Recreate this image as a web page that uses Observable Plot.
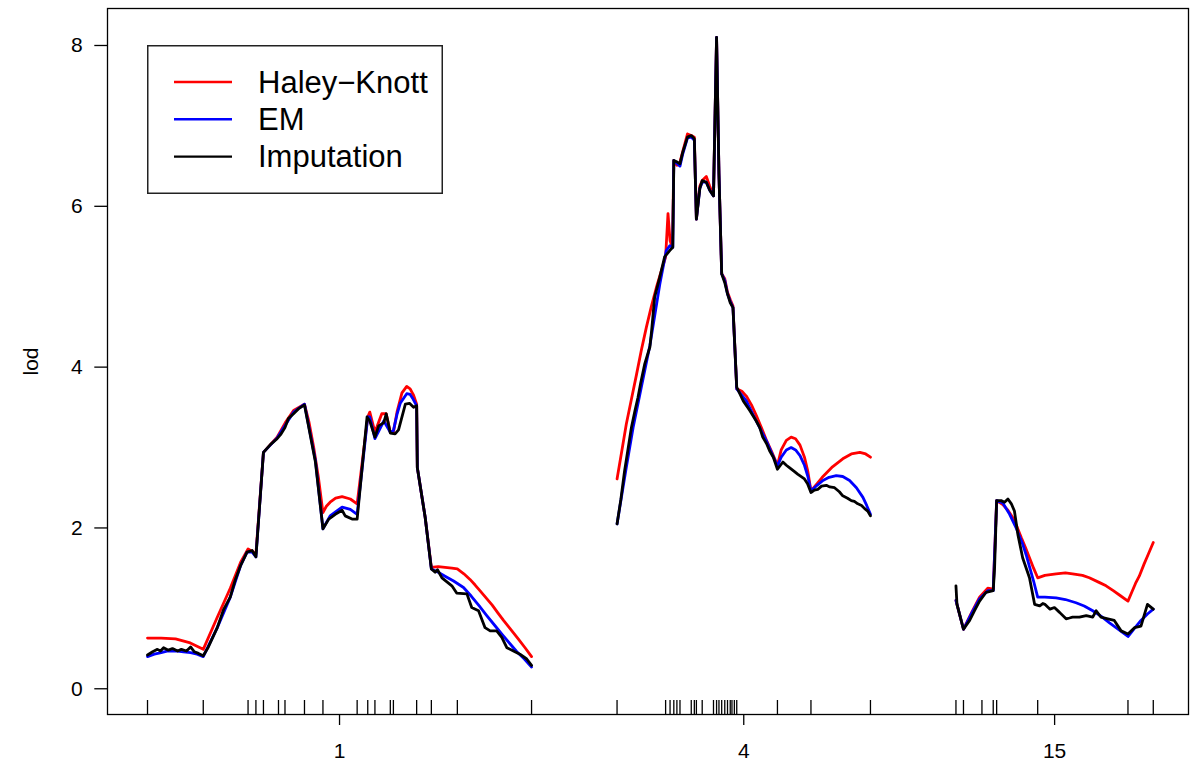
<!DOCTYPE html>
<html><head><meta charset="utf-8">
<script src="https://cdn.jsdelivr.net/npm/d3@7"></script>
<script src="https://cdn.jsdelivr.net/npm/@observablehq/plot@0.6"></script>
<style>
body{margin:0;background:#fff;font-family:"Liberation Sans",Arial,sans-serif}
#wrap{position:relative;width:1190px;height:762px}
#legend{position:absolute;left:147px;top:45px}
</style>
</head><body><div id="wrap"></div>
<script>
// ---- data ----
const chromosomes = ["1", "4", "15"];
const chromLengths = [112.3, 74.1, 57.7];
const chromGap = 25;
const methods = ["Haley−Knott", "EM", "Imputation"];
const methodColors = ["#ff0000", "#0000ff", "#000000"];
const yTicks = [0, 2, 4, 6, 8];

const markers1 = [0,16.3,29.4,31.7,33.9,38.3,40.2,45.9,51.3,61.3,64.4,66.5,71.0,71.9,78.7,83.0,90.6,112.3];
const markers4 = [0,14.2,15.5,16.6,17.5,18.4,21.7,22.6,23.2,24.9,28.2,29.1,29.8,30.6,31.5,32.3,33.1,33.6,34.3,35.0,46.9,56.7,74.1];
const markers15 = [0,2.2,7.6,10.9,11.9,23.9,50.3,57.7];

// [position (cM), lod]
const hk1 = [[0,0.63],[4,0.63],[8.2,0.62],[12.5,0.57],[16.3,0.49],[20.4,0.89],[24.2,1.25],[27.2,1.57],[29.4,1.74],[31.7,1.68],[33.9,2.94],[37.9,3.13],[40.3,3.31],[42.7,3.46],[45.9,3.54],[47.2,3.32],[48.6,3.00],[50.0,2.62],[51.3,2.19],[52.3,2.27],[53.4,2.32],[55.0,2.37],[56.9,2.39],[59.3,2.36],[61.3,2.30],[64.4,3.38],[65.0,3.44],[66.5,3.19],[68.5,3.42],[69.8,3.42],[71.0,3.19],[71.9,3.19],[73.0,3.45],[74.4,3.68],[75.8,3.76],[76.8,3.73],[77.8,3.65],[78.7,3.54],[78.9,2.75],[81.2,2.13],[83.0,1.51],[85.0,1.52],[87.0,1.51],[89.0,1.50],[90.6,1.49],[92.5,1.43],[94.3,1.36],[95.8,1.29],[97.2,1.22],[99.0,1.13],[100.8,1.04],[102.5,0.94],[104.1,0.85],[106.2,0.74],[108.4,0.62],[110.4,0.51],[112.3,0.40]];
const em1 = [[0,0.40],[2,0.43],[4,0.45],[6,0.47],[8.2,0.47],[10.5,0.46],[12.6,0.45],[14.5,0.43],[16.3,0.40],[20.4,0.76],[24.2,1.14],[27.2,1.53],[29.1,1.70],[30.6,1.70],[31.7,1.64],[33.9,2.94],[37.9,3.12],[40.3,3.28],[42.7,3.44],[45.9,3.54],[49.1,2.84],[51.3,1.99],[53.4,2.15],[56.9,2.26],[59.3,2.23],[61.3,2.17],[64.4,3.38],[65.0,3.38],[66.5,3.11],[69.1,3.33],[71.0,3.19],[71.9,3.21],[73.0,3.42],[73.9,3.55],[75.8,3.67],[76.8,3.66],[77.7,3.60],[78.7,3.52],[78.9,2.75],[81.2,2.13],[83.0,1.49],[85.0,1.45],[87.0,1.40],[89.5,1.34],[92.4,1.26],[94.7,1.15],[97.0,1.03],[99.2,0.91],[101.5,0.79],[103.8,0.67],[106.0,0.56],[108.0,0.46],[110.2,0.37],[112.3,0.27]];
const imp1 = [[0,0.42],[1.5,0.46],[2.9,0.49],[3.8,0.47],[4.7,0.51],[6.1,0.48],[7.3,0.50],[8.8,0.47],[9.9,0.49],[11.4,0.47],[12.6,0.52],[13.7,0.46],[14.9,0.44],[16.3,0.41],[17.8,0.52],[20.4,0.76],[22.2,0.98],[24.2,1.14],[25.7,1.36],[27.2,1.53],[29.1,1.70],[30.6,1.72],[31.7,1.64],[33.9,2.94],[36.0,3.04],[37.9,3.11],[38.9,3.16],[40.2,3.25],[41.2,3.36],[42.7,3.42],[44.1,3.48],[45.9,3.53],[49.1,2.82],[51.3,1.99],[53.0,2.11],[54.9,2.17],[56.9,2.22],[57.8,2.15],[59.8,2.11],[61.3,2.11],[64.2,3.38],[65.0,3.33],[66.5,3.13],[67.6,3.27],[69.1,3.31],[69.8,3.42],[71.0,3.18],[72.4,3.17],[73.4,3.22],[75.4,3.54],[76.6,3.55],[77.8,3.50],[78.7,3.52],[78.9,2.75],[81.2,2.13],[83.0,1.49],[84.1,1.45],[84.8,1.48],[86.1,1.38],[89.0,1.28],[90.4,1.19],[93.4,1.18],[94.8,1.01],[96.8,0.97],[98.7,0.76],[100.2,0.72],[102.1,0.72],[103.6,0.64],[105.1,0.51],[107.0,0.47],[108.9,0.43],[110.9,0.37],[112.3,0.29]];

const hk4 = [[0,2.61],[1.4,2.96],[2.7,3.29],[4.2,3.60],[5.7,3.91],[7.1,4.21],[8.6,4.50],[10.0,4.75],[11.5,4.99],[12.9,5.19],[14.2,5.37],[14.9,5.91],[15.5,5.57],[16.2,5.49],[16.6,6.57],[17.5,6.51],[18.4,6.55],[19.2,6.68],[20.6,6.90],[21.7,6.88],[22.6,6.86],[23.2,5.84],[24.2,6.25],[24.9,6.32],[26.1,6.37],[27.1,6.25],[28.2,6.13],[29.1,8.10],[29.8,6.40],[30.6,5.16],[31.5,5.10],[32.3,4.93],[33.1,4.84],[33.9,4.76],[35.0,3.73],[36.5,3.70],[37.8,3.64],[39.3,3.53],[40.7,3.40],[42.2,3.25],[43.6,3.10],[45.3,2.94],[46.9,2.78],[48.0,2.97],[49.5,3.09],[50.9,3.13],[52.2,3.11],[53.5,3.03],[54.8,2.88],[55.8,2.70],[56.7,2.46],[58.5,2.55],[60.0,2.63],[63.0,2.76],[66.0,2.86],[68.5,2.92],[71.0,2.94],[72.7,2.92],[74.1,2.88]];
const em4 = [[0,2.05],[2.7,2.75],[4.7,3.25],[7.1,3.75],[9.6,4.27],[12.5,5.03],[14.4,5.45],[15.4,5.51],[16.3,5.49],[16.6,6.57],[18.4,6.50],[19.2,6.65],[20.6,6.85],[21.7,6.86],[22.6,6.82],[23.2,5.84],[24.2,6.22],[24.9,6.30],[26.1,6.30],[27.1,6.20],[28.2,6.13],[29.1,8.10],[29.8,6.40],[30.6,5.16],[31.5,5.08],[32.3,4.91],[33.1,4.82],[33.9,4.74],[35.0,3.73],[37.8,3.58],[40.7,3.33],[43.6,3.09],[46.9,2.77],[48.0,2.88],[49.5,2.97],[50.9,3.00],[52.2,2.97],[53.5,2.90],[54.8,2.78],[55.8,2.64],[56.7,2.46],[58.5,2.53],[60.2,2.59],[62.0,2.63],[64.1,2.65],[66.0,2.64],[68.0,2.59],[70.0,2.50],[71.9,2.38],[73.0,2.28],[74.1,2.17]];
const imp4 = [[0,2.05],[1.1,2.35],[2.2,2.71],[3.1,2.95],[4.2,3.25],[5.2,3.45],[6.1,3.62],[6.9,3.80],[8.1,4.04],[9.6,4.25],[10.1,4.45],[11.0,4.87],[12.5,5.12],[13.9,5.37],[15.4,5.45],[16.3,5.49],[16.6,6.57],[17.6,6.55],[18.4,6.53],[19.2,6.67],[20.6,6.86],[21.7,6.88],[22.6,6.84],[23.2,5.84],[24.2,6.22],[24.9,6.32],[26.1,6.30],[27.1,6.20],[28.2,6.13],[29.1,8.10],[29.8,6.40],[30.6,5.16],[31.5,5.05],[32.3,4.91],[33.1,4.80],[33.9,4.74],[35.0,3.75],[36.9,3.58],[38.8,3.46],[40.7,3.33],[41.7,3.25],[42.6,3.13],[43.7,3.05],[44.6,2.96],[45.7,2.88],[46.9,2.73],[48.5,2.82],[49.5,2.78],[50.4,2.75],[51.9,2.70],[52.8,2.67],[54.8,2.61],[55.7,2.55],[56.7,2.44],[57.7,2.47],[58.7,2.48],[59.8,2.52],[61.2,2.53],[62.2,2.51],[63.6,2.50],[65.0,2.45],[66.0,2.40],[67.4,2.37],[68.5,2.34],[69.4,2.33],[70.4,2.30],[71.5,2.28],[72.4,2.24],[73.3,2.21],[74.1,2.15]];

const hk15 = [[0,1.10],[2.2,0.74],[4.6,0.95],[6.9,1.14],[9.3,1.25],[10.9,1.24],[11.9,2.34],[13.7,2.29],[15.2,2.22],[16.6,2.13],[17.9,2.01],[19.1,1.88],[20.3,1.76],[21.5,1.63],[22.7,1.50],[23.9,1.38],[26.0,1.41],[29.3,1.43],[32.0,1.44],[34.1,1.43],[37.0,1.41],[39.0,1.38],[42.0,1.32],[43.9,1.28],[46.0,1.22],[48.0,1.16],[50.3,1.09],[51.5,1.21],[52.5,1.31],[53.6,1.40],[55.0,1.55],[56.3,1.68],[57.7,1.82]];
const em15 = [[0,1.10],[2.2,0.74],[4.6,0.94],[6.9,1.12],[9.3,1.22],[10.9,1.22],[11.9,2.34],[13.7,2.31],[15.7,2.17],[17.6,2.00],[19.5,1.80],[20.5,1.67],[21.5,1.52],[22.7,1.34],[23.9,1.14],[26.0,1.14],[29.3,1.13],[32.0,1.11],[35.1,1.07],[37.5,1.03],[40.0,0.97],[42.5,0.90],[44.9,0.82],[47.5,0.74],[50.3,0.65],[52.2,0.75],[54.1,0.85],[56.0,0.93],[57.7,0.99]];
const imp15 = [[0,1.28],[0.3,1.05],[2.2,0.74],[4.0,0.85],[5.4,0.97],[6.9,1.09],[8.8,1.20],[10.9,1.22],[11.3,1.51],[11.9,2.34],[13.2,2.34],[14.2,2.32],[15.2,2.36],[16.2,2.30],[17.1,2.21],[18.1,1.92],[19.5,1.63],[21.5,1.38],[23.0,1.05],[24.5,1.03],[25.4,1.06],[26.0,1.05],[27.5,0.99],[28.8,1.01],[30.3,0.95],[32.2,0.87],[33.2,0.88],[34.1,0.89],[36.1,0.89],[38.1,0.91],[40.0,0.89],[41.0,0.97],[42.4,0.89],[44.4,0.87],[46.3,0.85],[48.3,0.72],[50.3,0.68],[52.2,0.76],[54.1,0.78],[56.0,1.05],[57.7,0.99]];

// ---- build tables ----
const offsets = [];
{ let acc = 0; chromLengths.forEach(L => { offsets.push(acc); acc += L + chromGap; }); }
const mids = chromLengths.map((L, i) => offsets[i] + L / 2);
const seriesByMethod = [[hk1, hk4, hk15], [em1, em4, em15], [imp1, imp4, imp15]];
const markerSets = [markers1, markers4, markers15];

const markerRows = markerSets.flatMap((ms, c) => ms.map(p => ({g: offsets[c] + p})));
const lineMarks = seriesByMethod.map((sets, m) => {
  const rows = sets.flatMap((pts, c) => pts.map(([p, lod]) => ({g: offsets[c] + p, lod, chr: chromosomes[c]})));
  return Plot.line(rows, {x: "g", y: "lod", z: "chr", stroke: methodColors[m], strokeWidth: 2.8, strokeLinejoin: "round", strokeLinecap: "round"});
});

const totalEnd = offsets[2] + chromLengths[2];
const chart = Plot.plot({
  width: 1190, height: 762,
  marginLeft: 107, marginRight: 2, marginTop: 8, marginBottom: 48,
  x: {domain: [-chromGap * 0.468, totalEnd + 10.3], axis: null},
  y: {domain: [-0.32, 8.46], axis: null},
  style: {fontFamily: "'Liberation Sans', Arial, sans-serif", fontSize: "21px", color: "black", background: "white"},
  marks: [
    ...lineMarks,
    Plot.ruleX(markerRows, {x: "g", insetTop: 692, stroke: "black", strokeWidth: 1.3}),
    Plot.frame({stroke: "black", strokeWidth: 1.3}),
    Plot.axisY({ticks: yTicks, tickSize: 12.7, tickPadding: 12, fontSize: 21, label: "lod", labelAnchor: "center", labelArrow: "none", labelOffset: 84, strokeWidth: 1.3}),
    Plot.axisX({ticks: mids, tickFormat: d => chromosomes[mids.indexOf(d)], tickSize: 11, tickPadding: 18, fontSize: 21, label: null, strokeWidth: 1.3})
  ]
});

const wrap = document.getElementById("wrap");
wrap.appendChild(chart);

// legend inside the plot area (top-left)
const lw = 296, lh = 149;
const leg = d3.select(wrap).append("svg").attr("id", "legend").attr("width", lw).attr("height", lh);
leg.append("rect").attr("x", 0.75).attr("y", 0.75).attr("width", lw - 1.5).attr("height", lh - 1.5)
  .attr("fill", "white").attr("stroke", "#222").attr("stroke-width", 1.5);
methods.forEach((name, i) => {
  const y = 37 + i * 37.3;
  leg.append("line").attr("x1", 27).attr("x2", 85).attr("y1", y).attr("y2", y)
    .attr("stroke", methodColors[i]).attr("stroke-width", 2.4);
  leg.append("text").attr("x", 111).attr("y", y).attr("dy", "0.35em")
    .attr("font-family", "'Liberation Sans', Arial, sans-serif").attr("font-size", 31).text(name);
});
</script>
</body></html>
